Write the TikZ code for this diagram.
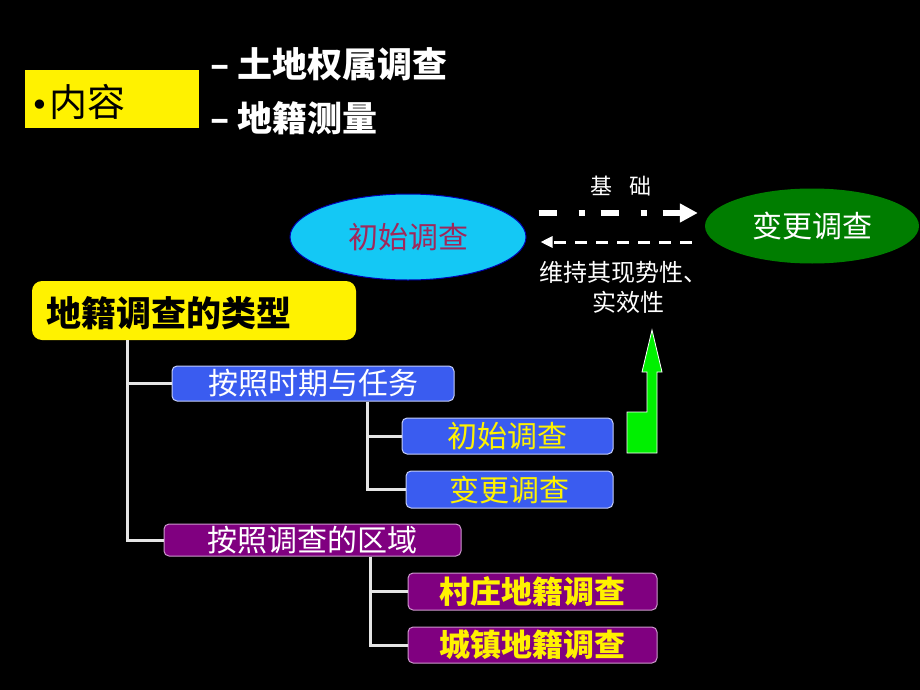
\documentclass[tikz,border=0pt]{standalone}
\usepackage{fontspec}
\newfontfamily\cjk{Noto Sans CJK SC}
\newfontfamily\djv{DejaVu Sans}
\usetikzlibrary{shapes.geometric,arrows.meta,calc}
\definecolor{boxblue}{RGB}{58,92,240}
\definecolor{boxpurple}{RGB}{128,0,128}
\definecolor{ellcyan}{RGB}{20,200,245}
\definecolor{ellgreen}{RGB}{0,125,0}
\definecolor{wine}{RGB}{160,40,90}
\definecolor{arrgreen}{RGB}{0,240,0}
\begin{document}
\begin{tikzpicture}[x=1pt,y=-1pt,
  every node/.style={font=\cjk, inner sep=0pt},
  bluebox/.style={draw=white!70!boxblue, line width=1pt, fill=boxblue, rounded corners=5pt, text=white},
  purplebox/.style={draw=white!60!boxpurple, line width=1pt, fill=boxpurple, rounded corners=5pt, text=white},
  tree/.style={draw=white!90!black, line width=3pt},
]
\useasboundingbox[fill=black] (0,0) rectangle (920,690);

% header
\node[fill=yellow, minimum width=174pt, minimum height=58pt] (nr) at (112,99) {};
\node[anchor=west, text=black, font=\cjk\fontsize{38}{42}\selectfont] (nrt) at (30,102) {{\djv\fontsize{32}{36}\selectfont •}内容};
\node[anchor=west, text=white, font=\cjk\bfseries\fontsize{35}{40}\selectfont] (h1) at (210,64) {– 土地权属调查};
\node[anchor=west, text=white, font=\cjk\bfseries\fontsize{35}{40}\selectfont] (h2) at (210,118) {– 地籍测量};

% ellipses
\node[ellipse, draw=blue!70!black, line width=1pt, fill=ellcyan, minimum width=236pt, minimum height=86pt, text=wine, font=\cjk\fontsize{30}{34}\selectfont] (ea) at (408,237) {初始调查};
\node[ellipse, fill=ellgreen, minimum width=214pt, minimum height=75pt, text=white, font=\cjk\fontsize{30}{34}\selectfont] (eb) at (812,226) {变更调查};

\draw[white, line width=6pt, dash pattern=on 18pt off 22pt on 6pt off 16pt, -{Triangle[length=18pt,width=18pt]}]
  ($(ea.east)+(12,-24)$) -- ($(eb.west)+(-7,-13)$);
\draw[white, line width=3pt, dash pattern=on 12pt off 9pt, -{Triangle[length=12pt,width=11pt]}]
  ($(eb.west)+(-13,16)$) -- ($(ea.east)+(14,5)$);
\node[text=white, font=\cjk\fontsize{22}{26}\selectfont] (l1) at (621,186) {基\hspace{0.75em}础};
\node[text=white, font=\cjk\fontsize{24}{28}\selectfont] (l2) at (623,272) {维持其现势性、};
\node[text=white, font=\cjk\fontsize{24}{28}\selectfont] (l3) at (628,302) {实效性};

% tree root
\node[fill=yellow, rounded corners=10pt, minimum width=324pt, minimum height=59pt] (root) at (194,310.5) {};
\node[anchor=west, text=black, font=\cjk\bfseries\fontsize{35}{40}\selectfont] (roott) at (46,313) {地籍调查的类型};

\node[bluebox, minimum width=282pt, minimum height=35pt, font=\cjk\fontsize{30}{34}\selectfont] (p1) at (313,383.5) {按照时期与任务};
\node[bluebox, minimum width=211pt, minimum height=36pt, text=yellow, font=\cjk\fontsize{30}{34}\selectfont] (c1) at (507.5,436) {初始调查};
\node[bluebox, minimum width=207pt, minimum height=37pt, text=yellow, font=\cjk\fontsize{30}{34}\selectfont] (c2) at (509.5,489.5) {变更调查};

\node[purplebox, minimum width=297pt, minimum height=32pt, font=\cjk\fontsize{30}{34}\selectfont] (p2) at (312.5,540) {按照调查的区域};
\node[purplebox, minimum width=249pt, minimum height=37pt, text=yellow, font=\cjk\bfseries\fontsize{31}{35}\selectfont] (d1) at (532.5,591.5) {村庄地籍调查};
\node[purplebox, minimum width=249pt, minimum height=36pt, text=yellow, font=\cjk\bfseries\fontsize{31}{35}\selectfont] (d2) at (532.5,645) {城镇地籍调查};

\coordinate (tr0) at (127,0);
\coordinate (tr1) at (367,0);
\coordinate (tr2) at (370,0);
\draw[tree] (root.south -| tr0) |- (p1.west);
\draw[tree] (root.south -| tr0) |- (p2.west);
\draw[tree] (p1.south -| tr1) |- (c1.west);
\draw[tree] (p1.south -| tr1) |- (c2.west);
\draw[tree] (p2.south -| tr2) |- (d1.west);
\draw[tree] (p2.south -| tr2) |- (d2.west);

% green arrow
\draw[white, line width=0.8pt, fill=arrgreen] (627,453) -- (627,412) -- (647,412) -- (647,372) -- (642,372) -- (652,330) -- (662,372) -- (657,372) -- (657,453) -- cycle;
\end{tikzpicture}
\end{document}
